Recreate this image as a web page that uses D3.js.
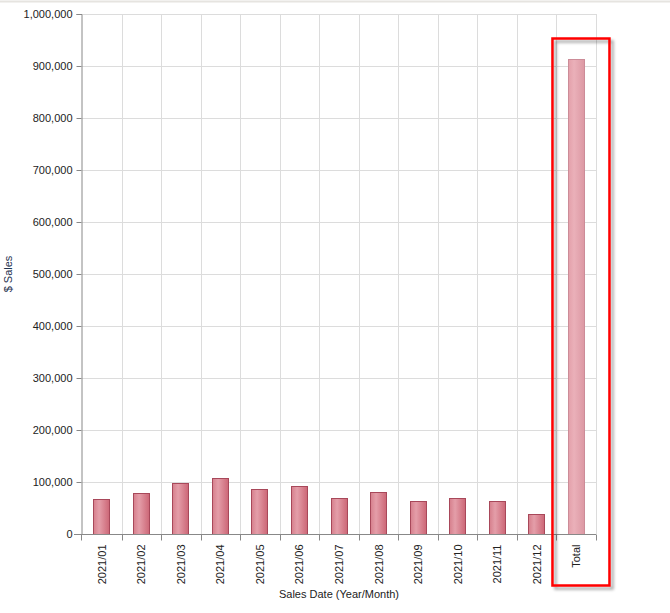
<!DOCTYPE html>
<html>
<head>
<meta charset="utf-8">
<script src="https://cdn.jsdelivr.net/npm/d3@7"></script>
<style>
  body { margin: 0; background: #fff; }
  svg { display: block; font-family: "Liberation Sans", Arial, sans-serif; }
</style>
</head>
<body>
<div id="chart"></div>
<script>
// Monthly sales plus the yearly total
const categories = ["2021/01", "2021/02", "2021/03", "2021/04", "2021/05", "2021/06",
  "2021/07", "2021/08", "2021/09", "2021/10", "2021/11", "2021/12", "Total"];
const sales = [67300, 79000, 98000, 107700, 86500, 92000, 69000, 80800, 63500, 69000, 63500, 38500, 913500];
const yTicks = [0, 100000, 200000, 300000, 400000, 500000, 600000, 700000, 800000, 900000, 1000000];

const width = 670, height = 613;
const margin = { top: 14, right: 74, bottom: 79, left: 82 };

const svg = d3.select("#chart").append("svg")
  .attr("width", width)
  .attr("height", height);

// faint page border at the top
svg.append("line")
  .attr("x1", 0).attr("x2", width)
  .attr("y1", 1.5).attr("y2", 1.5)
  .attr("stroke", "#e6e4e0").attr("stroke-width", 2);

const defs = svg.append("defs");

function addGradient(id, stops) {
  const g = defs.append("linearGradient").attr("id", id)
    .attr("x1", "0%").attr("x2", "100%").attr("y1", "0%").attr("y2", "0%");
  g.selectAll("stop").data(stops).enter().append("stop")
    .attr("offset", d => d[0])
    .attr("stop-color", d => d[1]);
}
addGradient("barGrad", [["0%", "#d67f8c"], ["35%", "#e49ea9"], ["100%", "#cc6676"]]);
addGradient("totalGrad", [["0%", "#e3a0aa"], ["35%", "#eab0b9"], ["100%", "#dc98a3"]]);

const shadow = defs.append("filter").attr("id", "shadow")
  .attr("x", "-10%").attr("y", "-10%").attr("width", "130%").attr("height", "130%");
shadow.append("feGaussianBlur").attr("in", "SourceAlpha").attr("stdDeviation", 1.5);
shadow.append("feOffset").attr("dx", 3).attr("dy", 3).attr("result", "ob");
shadow.append("feComponentTransfer").append("feFuncA").attr("type", "linear").attr("slope", 0.35);
const merge = shadow.append("feMerge");
merge.append("feMergeNode");
merge.append("feMergeNode").attr("in", "SourceGraphic");

const x = d3.scaleBand()
  .domain(categories)
  .range([margin.left, width - margin.right]);

const y = d3.scaleLinear()
  .domain([0, 1000000])
  .range([height - margin.bottom, margin.top]);

// grid
svg.append("g")
  .selectAll("line.h")
  .data(yTicks.slice(1))
  .enter().append("line")
  .attr("x1", margin.left).attr("x2", width - margin.right)
  .attr("y1", d => Math.round(y(d)) + 0.5).attr("y2", d => Math.round(y(d)) + 0.5)
  .attr("stroke", "#dcdcdc");

svg.append("g")
  .selectAll("line.v")
  .data(categories)
  .enter().append("line")
  .attr("x1", d => Math.round(x(d) + x.bandwidth()) + 0.5)
  .attr("x2", d => Math.round(x(d) + x.bandwidth()) + 0.5)
  .attr("y1", margin.top).attr("y2", y(0))
  .attr("stroke", "#dcdcdc");

// bars
const barW = 17;
svg.append("g")
  .selectAll("rect")
  .data(categories)
  .enter().append("rect")
  .attr("x", d => Math.round(x(d) + x.bandwidth() / 2 - barW / 2) + 0.5)
  .attr("y", (d, i) => Math.round(y(sales[i])) + 0.5)
  .attr("width", barW - 1)
  .attr("height", (d, i) => Math.round(y(0)) - Math.round(y(sales[i])))
  .attr("fill", d => d === "Total" ? "url(#totalGrad)" : "url(#barGrad)")
  .attr("stroke", d => d === "Total" ? "#cc8c98" : "#a8485a")
  .attr("stroke-width", 1);

// y axis
const yAxis = svg.append("g")
  .attr("transform", `translate(${margin.left - 0.5},0)`)
  .call(d3.axisLeft(y).tickValues(yTicks).tickSize(5).tickPadding(4)
    .tickFormat(d3.format(",")));
yAxis.selectAll("path, line").attr("stroke", "#888");
yAxis.selectAll("text")
  .attr("font-size", 11)
  .attr("font-family", "Liberation Sans, Arial, sans-serif")
  .attr("fill", "#222");

// x axis with ticks between categories
const xAxisG = svg.append("g")
  .attr("transform", `translate(0,${Math.round(y(0)) + 0.5})`);
xAxisG.append("line")
  .attr("x1", margin.left - 8).attr("x2", width - margin.right)
  .attr("stroke", "#888");
xAxisG.selectAll("line.tick")
  .data([margin.left - 1].concat(categories.map(d => x(d) + x.bandwidth())))
  .enter().append("line")
  .attr("x1", d => Math.round(d) + 0.5).attr("x2", d => Math.round(d) + 0.5)
  .attr("y1", 0).attr("y2", 6)
  .attr("stroke", "#888");
xAxisG.selectAll("text")
  .data(categories)
  .enter().append("text")
  .attr("transform", d => `translate(${x(d) + x.bandwidth() / 2 + 4},10) rotate(-90)`)
  .attr("text-anchor", "end")
  .attr("font-size", 11)
  .attr("fill", "#222")
  .text(d => d);

// axis titles
svg.append("text")
  .attr("x", (margin.left + width - margin.right) / 2)
  .attr("y", 598)
  .attr("text-anchor", "middle")
  .attr("font-size", 11)
  .attr("fill", "#222")
  .text("Sales Date (Year/Month)");

svg.append("text")
  .attr("transform", `translate(12,${(margin.top + height - margin.bottom) / 2}) rotate(-90)`)
  .attr("text-anchor", "middle")
  .attr("font-size", 11)
  .attr("fill", "#1f3350")
  .text("$ Sales");

// highlight box around the total
const tx = x("Total");
svg.append("rect")
  .attr("x", tx - 4)
  .attr("y", 38.5)
  .attr("width", 57)
  .attr("height", 547)
  .attr("fill", "none")
  .attr("stroke", "#ff0000")
  .attr("stroke-width", 2.5)
  .attr("filter", "url(#shadow)");
</script>
</body>
</html>
